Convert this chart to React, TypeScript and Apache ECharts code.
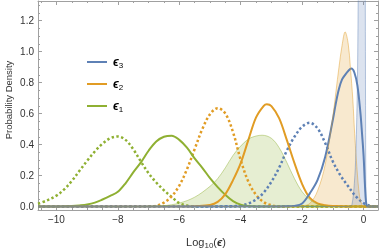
import React, { useEffect, useRef } from "react";
import * as echarts from "echarts";

// ---- data (log10 epsilon, probability density) ----
const eps1Dotted: number[][] = [[-10.6,0.018],[-10.3,0.04],[-10,0.07],[-9.75,0.11],[-9.5,0.165],[-9.25,0.23],[-9,0.295],[-8.75,0.355],[-8.5,0.405],[-8.25,0.44],[-8,0.452],[-7.75,0.43],[-7.5,0.37],[-7.25,0.29],[-7,0.215],[-6.75,0.155],[-6.5,0.105],[-6.25,0.062],[-6,0.022],[-5.75,0.006],[-5.5,0],[-5.25,0],[0.47,0]];
const eps1Solid: number[][] = [[-10.6,0],[-9.75,0.001],[-9.5,0.003],[-9.25,0.007],[-9,0.013],[-8.75,0.025],[-8.5,0.045],[-8.25,0.068],[-8,0.095],[-7.75,0.15],[-7.5,0.22],[-7.25,0.285],[-7,0.36],[-6.75,0.42],[-6.5,0.45],[-6.25,0.457],[-6,0.43],[-5.75,0.38],[-5.5,0.31],[-5.25,0.25],[-5,0.183],[-4.75,0.125],[-4.5,0.075],[-4.25,0.035],[-4,0.012],[-3.75,0.003],[-3.5,0],[-3.25,0],[0.47,0]];
const eps1Fill: number[][] = [[-10.6,0],[-7.25,0],[-7,0.001],[-6.5,0.005],[-6,0.022],[-5.5,0.06],[-5,0.13],[-4.75,0.18],[-4.5,0.25],[-4.25,0.33],[-4,0.39],[-3.75,0.435],[-3.5,0.455],[-3.3,0.46],[-3,0.44],[-2.75,0.38],[-2.5,0.285],[-2.25,0.18],[-2,0.095],[-1.75,0.043],[-1.5,0.015],[-1.25,0.004],[-1,0],[-0.75,0],[0.47,0]];
const eps2Dotted: number[][] = [[-10.6,0],[-7.25,0],[-7,0.001],[-6.75,0.005],[-6.5,0.025],[-6.25,0.065],[-6,0.135],[-5.75,0.24],[-5.5,0.37],[-5.25,0.5],[-5,0.595],[-4.75,0.635],[-4.5,0.6],[-4.25,0.48],[-4,0.3],[-3.75,0.16],[-3.5,0.075],[-3.25,0.028],[-3,0.008],[-2.75,0],[-2.5,0],[0.47,0]];
const eps2Solid: number[][] = [[-10.6,0],[-5.75,0],[-5.5,0.002],[-5,0.01],[-4.75,0.03],[-4.5,0.08],[-4.25,0.17],[-4,0.28],[-3.75,0.43],[-3.5,0.575],[-3.25,0.65],[-3.15,0.66],[-3,0.648],[-2.75,0.57],[-2.5,0.43],[-2.25,0.28],[-2,0.145],[-1.75,0.055],[-1.5,0.02],[-1.25,0.008],[-1,0.003],[-0.5,0],[-0.25,0],[0.47,0]];
const eps2Fill: number[][] = [[-10.6,0],[-2.25,0],[-2,0.003],[-1.75,0.02],[-1.5,0.1],[-1.25,0.27],[-1,0.58],[-0.9,0.74],[-0.8,0.9],[-0.7,1.04],[-0.6,1.127],[-0.5,1.05],[-0.43,0.9],[-0.35,0.69],[-0.29,0.47],[-0.22,0.26],[-0.13,0.064],[-0.05,0.01],[0,0],[0.1,0],[0.47,0]];
const eps3Dotted: number[][] = [[-10.6,0],[-4.75,0],[-4.5,0.001],[-4.25,0.002],[-4,0.006],[-3.75,0.02],[-3.5,0.045],[-3.25,0.09],[-3,0.16],[-2.75,0.25],[-2.5,0.36],[-2.25,0.45],[-2,0.515],[-1.75,0.54],[-1.5,0.505],[-1.25,0.41],[-1,0.29],[-0.75,0.2],[-0.5,0.13],[-0.25,0.065],[0,0.022],[0.25,0.003],[0.47,0]];
const eps3Solid: number[][] = [[-10.6,0],[-2.75,0],[-2.5,0.001],[-2.25,0.004],[-2,0.02],[-1.75,0.085],[-1.5,0.17],[-1.25,0.32],[-1,0.56],[-0.9,0.67],[-0.8,0.76],[-0.7,0.82],[-0.6,0.85],[-0.5,0.875],[-0.4,0.89],[-0.3,0.865],[-0.2,0.78],[-0.1,0.6],[-0.05,0.47],[0,0.33],[0.05,0.12],[0.08,0.03],[0.12,0],[0.2,0],[0.47,0]];
const eps3Fill: number[][] = [[-10.6,0],[-0.5,0],[-0.45,0.002],[-0.38,0.01],[-0.3,0.15],[-0.25,0.35],[-0.2,0.8],[-0.17,1.5],[-0.12,3],[-0.05,4.5],[0,4.5],[0.03,3.5],[0.05,2],[0.06,1],[0.07,0.3],[0.08,0.05],[0.1,0],[0.15,0],[0.47,0]];

const xMajor = [-10, -8, -6, -4, -2, 0];
const xMinor = [-10.5, -9.5, -9, -8.5, -7.5, -7, -6.5, -5.5, -5, -4.5, -3.5, -3, -2.5, -1.5, -1, -0.5];
const yMajor = [0, 0.2, 0.4, 0.6, 0.8, 1.0, 1.2];
const yMinor = [0.05, 0.1, 0.15, 0.25, 0.3, 0.35, 0.45, 0.5, 0.55, 0.65, 0.7, 0.75, 0.85, 0.9, 0.95, 1.05, 1.1, 1.15, 1.25, 1.3];
const legendNames = ["3", "2", "1"];

const BLUE = "#5E81B5";
const ORANGE = "#E19C24";
const GREEN = "#8FB032";
const FRAME = "#a0a0a0";
const FONT = "'Liberation Sans', Arial, sans-serif";

const X_MIN = -10.6, X_MAX = 0.47, Y_MIN = -0.0226, Y_MAX = 1.3265;

function xAxisDef(position: string, ticks: number[], len: number, labels: boolean, line: boolean) {
  return {
    type: "value", min: X_MIN, max: X_MAX, position,
    axisLine: { show: line, onZero: false, lineStyle: { color: FRAME, width: 1 } },
    axisTick: { show: true, inside: true, length: len, customValues: ticks, lineStyle: { color: FRAME, width: 1 } },
    axisLabel: labels
      ? { show: true, customValues: ticks, fontSize: 10, color: "#333", fontFamily: FONT, margin: 4,
          formatter: (v: number) => String(v).replace("-", "\u2212") }
      : { show: false },
    splitLine: { show: false },
  };
}
function yAxisDef(position: string, ticks: number[], len: number, labels: boolean, line: boolean) {
  return {
    type: "value", min: Y_MIN, max: Y_MAX, position,
    axisLine: { show: line, onZero: false, lineStyle: { color: FRAME, width: 1 } },
    axisTick: { show: true, inside: true, length: len, customValues: ticks, lineStyle: { color: FRAME, width: 1 } },
    axisLabel: labels
      ? { show: true, customValues: ticks, fontSize: 10, color: "#333", fontFamily: FONT, margin: 4,
          formatter: (v: number) => v.toFixed(1) }
      : { show: false },
    splitLine: { show: false },
  };
}

function lineSeries(data: number[][], color: string, dotted: boolean) {
  return {
    type: "line", data, showSymbol: false, smooth: 0.35,
    xAxisIndex: 0, yAxisIndex: 0, silent: true,
    lineStyle: { color, width: dotted ? 2.5 : 2, type: dotted ? [2.4, 2.4] : "solid", cap: "butt" },
  };
}
function fillSeries(data: number[][], color: string) {
  return {
    type: "line", data, showSymbol: false, smooth: 0.35,
    xAxisIndex: 0, yAxisIndex: 0, silent: true,
    lineStyle: { color, width: 1, opacity: 0.45 },
    areaStyle: { color, opacity: 0.22 },
  };
}

export default function App() {
  const ref = useRef<HTMLDivElement>(null);
  useEffect(() => {
    if (!ref.current) return;
    const chart = echarts.init(ref.current, null, { renderer: "svg" });
    const legendColors = [BLUE, ORANGE, GREEN];
    const legendY = [62, 84, 106];
    const graphic: any[] = [];
    legendNames.forEach((n, i) => {
      graphic.push({
        type: "line", shape: { x1: 87, y1: legendY[i], x2: 107, y2: legendY[i] },
        style: { stroke: legendColors[i], lineWidth: 2 }, silent: true,
      });
      graphic.push({
        type: "text", x: 113, y: legendY[i], silent: true,
        style: {
          text: "{e|\u03F5}{s|" + n + "}", verticalAlign: "middle", align: "left",
          rich: {
            e: { fontSize: 12, fontWeight: "bold", fontStyle: "italic", fontFamily: FONT, fill: "#000" },
            s: { fontSize: 8, fontFamily: FONT, fill: "#000", padding: [7, 0, 0, 0] },
          },
        },
      });
    });
    graphic.push({
      type: "text", x: 206, y: 242, silent: true,
      style: {
        text: "Log{s|10}({e|\u03F5})", align: "center", verticalAlign: "middle", fontSize: 11,
        fontFamily: FONT, fill: "#333",
        rich: {
          s: { fontSize: 8, fontFamily: FONT, fill: "#333", padding: [6, 0, 0, 0] },
          e: { fontSize: 11, fontWeight: "bold", fontStyle: "italic", fontFamily: FONT, fill: "#333" },
        },
      },
    });
    graphic.push({
      type: "text", x: 8, y: 100, rotation: Math.PI / 2, silent: true,
      style: { text: "Probability Density", align: "center", verticalAlign: "middle", fontSize: 9.5, fontFamily: FONT, fill: "#333" },
    });

    chart.setOption({
      animation: false,
      grid: { left: 38, right: 4, top: 1, bottom: 41, containLabel: false },
      xAxis: [
        xAxisDef("bottom", xMajor, 4, true, true),
        xAxisDef("bottom", xMinor, 2, false, false),
        xAxisDef("top", xMajor, 4, false, true),
        xAxisDef("top", xMinor, 2, false, false),
      ],
      yAxis: [
        yAxisDef("left", yMajor, 4, true, true),
        yAxisDef("left", yMinor, 2, false, false),
        yAxisDef("right", yMajor, 4, false, true),
        yAxisDef("right", yMinor, 2, false, false),
      ],
      series: [
        lineSeries(eps1Dotted, GREEN, true),
        lineSeries(eps2Dotted, ORANGE, true),
        lineSeries(eps3Dotted, BLUE, true),
        lineSeries(eps1Solid, GREEN, false),
        lineSeries(eps2Solid, ORANGE, false),
        lineSeries(eps3Solid, BLUE, false),
        fillSeries(eps1Fill, GREEN),
        fillSeries(eps2Fill, ORANGE),
        fillSeries(eps3Fill, BLUE),
      ],
      graphic,
    });
    return () => chart.dispose();
  }, []);
  return <div ref={ref} style={{ position: "fixed", left: 0, top: 0, width: 382, height: 251 }} />;
}
